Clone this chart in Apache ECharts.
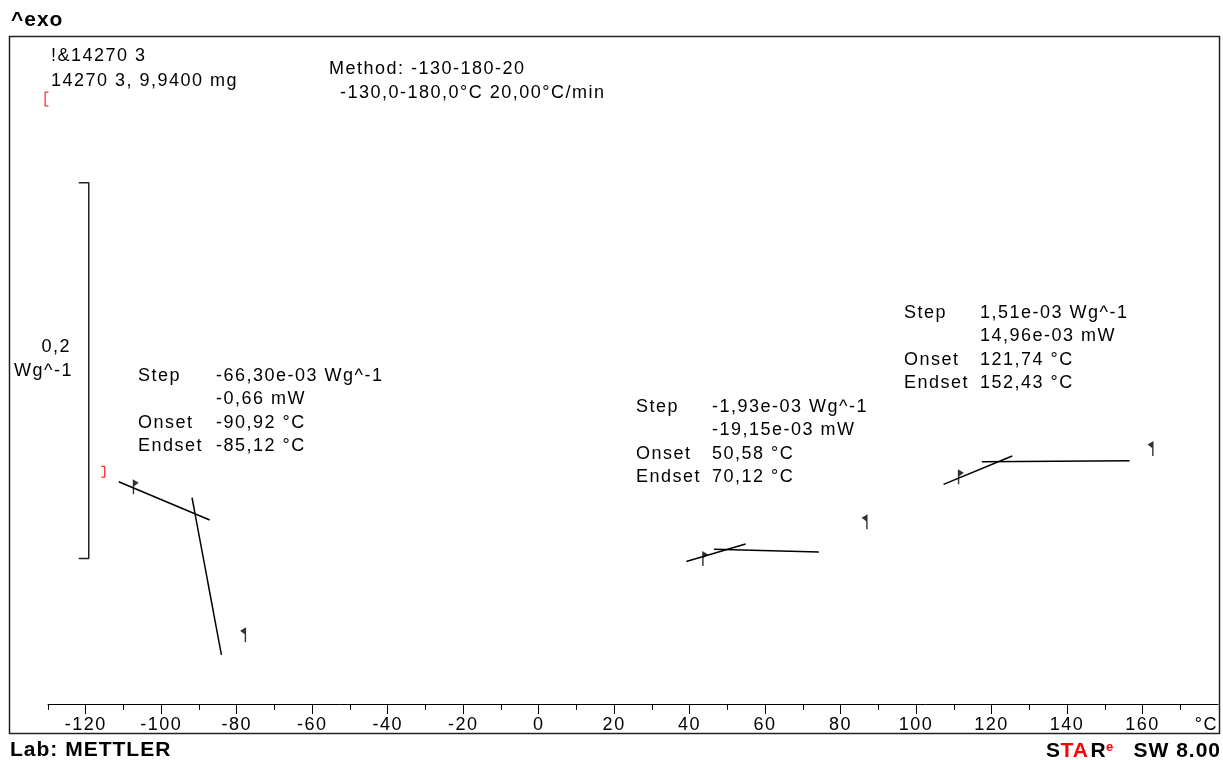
<!DOCTYPE html>
<html>
<head>
<meta charset="utf-8">
<script src="https://cdn.jsdelivr.net/npm/echarts@6/dist/echarts.min.js"></script>
<style>
  html, body { margin: 0; padding: 0; background: #fff; }
  #chart { width: 1223px; height: 760px; }
</style>
</head>
<body>
<div id="chart"></div>
<script>
// Temperature axis (°C)
const tempMin = -130;
const tempMax = 180;
const majorTicks = [-120, -100, -80, -60, -40, -20, 0, 20, 40, 60, 80, 100, 120, 140, 160];
const minorTicks = [-130, -110, -90, -70, -50, -30, -10, 10, 30, 50, 70, 90, 110, 130, 150, 170];

// Evaluation tangents, [°C, Wg^-1]
const step1Before  = [[-111.26, 0.1183], [-87.15, 0.0979]];
const step1Inflect = [[-91.84, 0.1098], [-84.05, 0.0262]];
const step2Inflect = [[39.13, 0.0758], [54.83, 0.0852]];
const step2After   = [[46.44, 0.0824], [74.25, 0.0809]];
const step3Inflect = [[107.28, 0.1169], [125.48, 0.1320]];
const step3After   = [[117.43, 0.1290], [156.56, 0.1295]];

// Evaluation limits (foot of each flag), [°C, Wg^-1]
const leftLimits  = [[-107.36, 0.1116], [43.52, 0.0735], [111.26, 0.1169]];
const rightLimits = [[-77.70, 0.0329], [86.97, 0.0930], [162.73, 0.1320]];

// Curve range markers
const curveStart = [[-130, 0.3220]];
const curveEnd   = [[-115.36, 0.1236]];

// Ordinate scale bar (0,2 Wg^-1)
const scaleBarX = -119.2;
const scaleBarCapX = -121.85;
const scaleBarBottom = 0.0774;
const scaleBarSpan = 0.2;

// Evaluation results
const resultTitles = ['Step', '', 'Onset', 'Endset'];
const step1Result = ['-66,30e-03 Wg^-1', '-0,66 mW', '-90,92 °C', '-85,12 °C'];
const step2Result = ['-1,93e-03 Wg^-1', '-19,15e-03 mW', '50,58 °C', '70,12 °C'];
const step3Result = ['1,51e-03 Wg^-1', '14,96e-03 mW', '121,74 °C', '152,43 °C'];

const FONT = '"Liberation Sans", Arial, sans-serif';
const TXT = '18px ' + FONT;
const BOLD = 'bold 21px ' + FONT;
const SUP = 'bold 13px ' + FONT;

// Tracked lettering, as on the printed report
(function () {
  const proto = CanvasRenderingContext2D.prototype;
  if (!('letterSpacing' in proto)) return;
  const fill = proto.fillText;
  proto.fillText = function (t, x, y, w) {
    const f = this.font;
    this.letterSpacing = /13px/.test(f) ? '0px' : (/bold/.test(f) ? '1px' : '1.5px');
    return w === undefined ? fill.call(this, t, x, y) : fill.call(this, t, x, y, w);
  };
})();

const chart = echarts.init(document.getElementById('chart'), null, { renderer: 'canvas' });

const tangent = (data) => ({
  type: 'line', data, symbol: 'none', silent: true, clip: false,
  lineStyle: { color: '#000', width: 1.5 }
});

const flagRight = 'path://M0 0 L6 3.5 L1.4 7 L1.4 15 L0 15 Z';
const flagLeft  = 'path://M6 0 L0 3.5 L4.6 7 L4.6 15 L6 15 Z';

function text(x, y, str, opts) {
  return {
    type: 'text', x, y, silent: true,
    style: Object.assign({
      text: str, font: TXT, fill: '#000',
      textAlign: 'left', textVerticalAlign: 'middle'
    }, opts || {})
  };
}

function resultBlock(x0, x1, y0, values) {
  const out = [];
  const dy = 23.3;
  values.forEach((v, i) => {
    if (resultTitles[i]) out.push(text(x0, y0 + i * dy, resultTitles[i]));
    out.push(text(x1, y0 + i * dy, v));
  });
  return out;
}

const graphics = [
  { type: 'rect', silent: true, shape: { x: 9.5, y: 36.5, width: 1210, height: 697 },
    style: { fill: 'none', stroke: '#222', lineWidth: 1.5 } },
  text(11, 20, '^exo', { font: BOLD }),
  text(51, 56, '!&14270 3'),
  text(51, 81, '14270 3, 9,9400 mg'),
  text(329, 69, 'Method: -130-180-20'),
  text(340, 93, '-130,0-180,0°C 20,00°C/min'),
  text(71, 347, '0,2', { textAlign: 'right' }),
  text(73, 371, 'Wg^-1', { textAlign: 'right' }),
  ...resultBlock(138, 216, 376, step1Result),
  ...resultBlock(636, 712, 407, step2Result),
  ...resultBlock(904, 980, 313, step3Result),
  text(10, 750, 'Lab: METTLER', { font: BOLD }),
  // STARe SW 8.00 software mark
  text(1046, 751, 'S', { font: BOLD }),
  text(1060.5, 751, 'TA', { font: BOLD, fill: '#ff0000' }),
  text(1090.5, 751, 'R', { font: BOLD }),
  text(1106, 747, 'e', { font: SUP, fill: '#ff0000' }),
  text(1221, 751, 'SW 8.00', { font: BOLD, textAlign: 'right' })
];

const option = {
  animation: false,
  backgroundColor: '#fff',
  grid: { left: 48, right: 5, top: 37, bottom: 56, containLabel: false },
  xAxis: [
    {
      type: 'value', min: tempMin, max: tempMax, position: 'bottom',
      name: '°C', nameLocation: 'end', nameGap: 0,
      nameTextStyle: { fontFamily: FONT, fontSize: 18, color: '#000',
        align: 'right', verticalAlign: 'top', padding: [12, 0, 0, 0] },
      axisLine: { show: true, lineStyle: { color: '#000', width: 1 } },
      axisTick: { show: true, inside: false, length: 10, customValues: majorTicks,
        lineStyle: { color: '#000', width: 1 } },
      axisLabel: { show: true, customValues: majorTicks, margin: 12,
        fontFamily: FONT, fontSize: 18, color: '#000' },
      splitLine: { show: false }
    },
    {
      type: 'value', min: tempMin, max: tempMax, position: 'bottom', offset: 0,
      axisLine: { show: false },
      axisTick: { show: true, inside: false, length: 6, customValues: minorTicks,
        lineStyle: { color: '#000', width: 1 } },
      axisLabel: { show: false },
      splitLine: { show: false }
    }
  ],
  yAxis: { type: 'value', min: 0, max: 0.355, show: false },
  series: [
    tangent(step1Before),
    tangent(step1Inflect),
    tangent(step2Inflect),
    tangent(step2After),
    tangent(step3Inflect),
    tangent(step3After),
    {
      type: 'line', silent: true, symbol: 'none', clip: false,
      lineStyle: { color: '#222', width: 1.5 },
      data: [
        [scaleBarCapX, scaleBarBottom + scaleBarSpan],
        [scaleBarX, scaleBarBottom + scaleBarSpan],
        [scaleBarX, scaleBarBottom],
        [scaleBarCapX, scaleBarBottom]
      ]
    },
    {
      type: 'scatter', silent: true, clip: false, data: leftLimits,
      symbol: flagRight, symbolSize: [6, 15], symbolOffset: [2.3, -7.5],
      itemStyle: { color: '#000' }
    },
    {
      type: 'scatter', silent: true, clip: false, data: rightLimits,
      symbol: flagLeft, symbolSize: [6, 15], symbolOffset: [-2.3, -7.5],
      itemStyle: { color: '#000' }
    },
    {
      type: 'scatter', silent: true, clip: false, data: curveStart,
      symbol: 'path://M0 0 H4 V1.2 H1.3 V13.8 H4 V15 H0 Z', symbolSize: [4, 15],
      symbolOffset: [-1.5, 0], itemStyle: { color: '#ff0000' }
    },
    {
      type: 'scatter', silent: true, clip: false, data: curveEnd,
      symbol: 'path://M0 0 H4 V12 H0 V10.8 H2.7 V1.2 H0 Z', symbolSize: [4, 12],
      itemStyle: { color: '#ff0000' }
    }
  ],
  graphic: graphics
};

chart.setOption(option);
</script>
</body>
</html>
